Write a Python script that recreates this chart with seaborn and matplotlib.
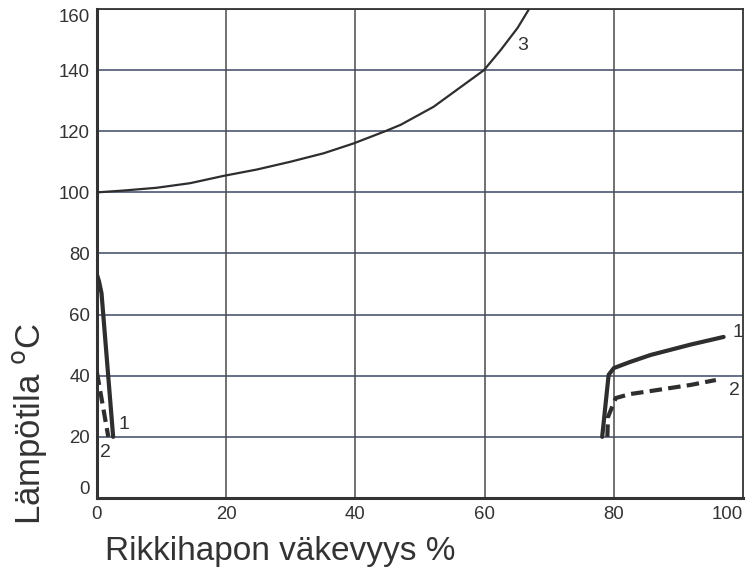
import matplotlib
matplotlib.use("Agg")
import matplotlib.pyplot as plt
import seaborn as sns
import pandas as pd

# Curve 3 (thin) - readings from the picture
c3_x = [0, 4.1, 9.2, 14.4, 19.6, 24.8, 29.9, 35.1, 39.7, 44.6, 47.0, 52.1, 57.3, 59.9, 62.5, 65.1, 66.8]
c3_y = [100, 100.6, 101.5, 103.0, 105.4, 107.5, 110.0, 112.8, 116.0, 120.0, 122.1, 128.0, 136.0, 140.0, 146.6, 153.8, 159.7]

# Curve 1 (solid, thick) - left and right branches
c1l_x = [0, 0.3, 0.7, 2.5]
c1l_y = [73, 71, 67, 20]
c1r_x = [78.2, 79.2, 80.0, 82.5, 85.7, 91.9, 97]
c1r_y = [20, 40.3, 42.5, 44.5, 46.8, 50.2, 52.7]

# Curve 2 (dashed, thick) - left and right branches
c2l_x = [0, 1.75]
c2l_y = [41, 20]
c2r_x = [79.0, 79.1, 80.3, 82.5, 85.7, 91.9, 95.8]
c2r_y = [20, 26.5, 32.7, 34.0, 35.0, 37.0, 38.6]

x_ticks = [0, 20, 40, 60, 80, 100]
y_ticks = [0, 20, 40, 60, 80, 100, 120, 140, 160]

sns.set_style("white")
plt.rcParams['font.family'] = ['Liberation Sans', 'DejaVu Sans']

fig = plt.figure(figsize=(7.54, 5.72), dpi=100)
ax = fig.add_axes([97/754, 1 - 498/572, (743 - 97)/754, (498 - 9)/572])

line_col = '#2e2e2e'
for y in y_ticks[1:]:
    ax.axhline(y, color='#3d4866', lw=1.1, zorder=1)
for x in x_ticks[1:-1]:
    ax.axvline(x, color='#4a4a4a', lw=1.1, zorder=1)

df3 = pd.DataFrame({'x': c3_x, 'y': c3_y})
sns.lineplot(data=df3, x='x', y='y', sort=False, ax=ax, color=line_col, lw=1.6, zorder=3)
for xs, ys in [(c1l_x, c1l_y), (c1r_x, c1r_y)]:
    d = pd.DataFrame({'x': xs, 'y': ys})
    sns.lineplot(data=d, x='x', y='y', sort=False, ax=ax, color=line_col, lw=3.0, zorder=3)
for xs, ys in [(c2l_x, c2l_y), (c2r_x, c2r_y)]:
    d = pd.DataFrame({'x': xs, 'y': ys})
    sns.lineplot(data=d, x='x', y='y', sort=False, ax=ax, color=line_col, lw=3.0,
                 zorder=3, linestyle=(0, (3, 1.5)))

ax.set_xlim(0, 100)
ax.set_ylim(0, 160)
ax.set_xticks(x_ticks)
ax.set_yticks(y_ticks)
ax.set_xlabel('')
ax.set_ylabel('')
ax.tick_params(axis='both', length=0, labelsize=13.4, colors='#333333')
ax.tick_params(axis='y', pad=5)
ax.tick_params(axis='x', pad=6)
for s in ax.spines.values():
    s.set_color('#333333')
    s.set_linewidth(1.3)
ax.spines['left'].set_linewidth(2.2)
ax.spines['bottom'].set_linewidth(2.2)

xl = ax.get_xticklabels()
xl[-1].set_horizontalalignment('right')
yl = ax.get_yticklabels()
yl[0].set_verticalalignment('bottom')
yl[-1].set_verticalalignment('top')

tc = '#333333'
ax.text(98.4, 54, '1', fontsize=14, color=tc, ha='left', va='center')
ax.text(97.8, 35.3, '2', fontsize=14, color=tc, ha='left', va='center')
ax.text(65.9, 148, '3', fontsize=14, color=tc, ha='center', va='center')
ax.text(3.4, 24, '1', fontsize=14, color=tc, ha='left', va='center')
ax.text(0.4, 15, '2', fontsize=14, color=tc, ha='left', va='center')

fig.text(280/754, 1 - 560/572, 'Rikkihapon väkevyys %', fontsize=24, color=tc,
         ha='center', va='baseline')
fig.text(30/754, 1 - 424/572, 'Lämpötila $^{\\mathrm{o}}$C', fontsize=25, color=tc,
         ha='center', va='center', rotation=90)

fig.savefig('out.png', dpi=100)
